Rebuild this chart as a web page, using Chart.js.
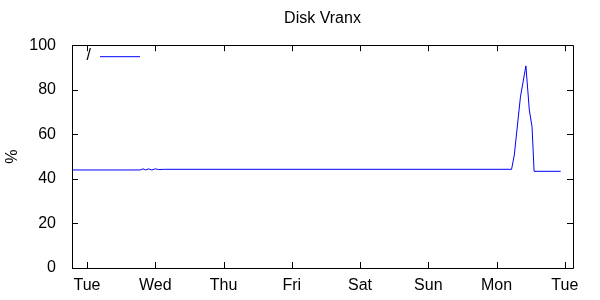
<!DOCTYPE html>
<html>
<head>
<meta charset="utf-8">
<script src="https://cdn.jsdelivr.net/npm/chart.js@4/dist/chart.umd.min.js"></script>
<style>
  html, body { margin: 0; padding: 0; background: #fff; }
  #wrap { width: 600px; height: 300px; }
</style>
</head>
<body>
<div id="wrap"><canvas id="myChart"></canvas></div>
<script>
// time in days from the first Tuesday, value in %
const times = [-0.22, 0.78, 0.82, 0.86, 0.90, 0.95, 1.00, 1.05, 1.14, 6.22, 6.26, 6.35, 6.43, 6.48, 6.52, 6.55, 6.94];
const values = [44, 44, 44.5, 44, 44.5, 44, 44.5, 44.2, 44.3, 44.3, 50.7, 76.8, 90.7, 70.9, 63.4, 43.4, 43.4];
const dayLabels = ["Tue", "Wed", "Thu", "Fri", "Sat", "Sun", "Mon", "Tue"];
const yTicks = [0, 20, 40, 60, 80, 100];
const seriesName = "/";

const FONT = "'Liberation Sans', Arial, sans-serif";

// gnuplot-like frame, inward tick marks and key
const frame = {
  id: "frame",
  afterDatasetsDraw(chart) {
    const ctx = chart.ctx;
    const a = chart.chartArea;
    const xs = chart.scales.x, ys = chart.scales.y;
    ctx.save();
    ctx.strokeStyle = "#000";
    ctx.lineWidth = 1;
    ctx.beginPath();
    ctx.rect(Math.round(a.left) + 0.5, Math.round(a.top) + 0.5,
      Math.round(a.right - a.left), Math.round(a.bottom - a.top));
    yTicks.forEach(v => {
      const y = Math.round(ys.getPixelForValue(v)) + 0.5;
      ctx.moveTo(a.left, y); ctx.lineTo(a.left + 6, y);
      ctx.moveTo(a.right, y); ctx.lineTo(a.right - 6, y);
    });
    dayLabels.forEach((d, i) => {
      const x = Math.round(xs.getPixelForValue(i)) + 0.5;
      ctx.moveTo(x, a.bottom); ctx.lineTo(x, a.bottom - 6);
      ctx.moveTo(x, a.top); ctx.lineTo(x, a.top + 6);
    });
    ctx.stroke();

    // key
    const ds = chart.data.datasets[0];
    ctx.font = "16px " + FONT;
    ctx.fillStyle = "#000";
    ctx.textAlign = "right";
    ctx.textBaseline = "middle";
    ctx.fillText(ds.label, a.left + 19, a.top + 10);
    ctx.strokeStyle = ds.borderColor;
    ctx.beginPath();
    ctx.moveTo(a.left + 28, a.top + 11.5);
    ctx.lineTo(a.left + 68, a.top + 11.5);
    ctx.stroke();
    ctx.restore();
  }
};

new Chart(document.getElementById("myChart"), {
  type: "line",
  data: {
    datasets: [{
      label: seriesName,
      data: times.map((t, i) => ({ x: t, y: values[i] })),
      borderColor: "#0000ff",
      borderWidth: 1,
      pointRadius: 0,
      tension: 0,
      fill: false
    }]
  },
  options: {
    responsive: true,
    maintainAspectRatio: false,
    animation: false,
    layout: { padding: { top: 0, right: 27, bottom: 0, left: 0 } },
    plugins: {
      legend: { display: false },
      tooltip: { enabled: false },
      title: {
        display: true,
        text: "Disk Vranx",
        color: "#000",
        fullSize: false,
        font: { family: FONT, size: 16, weight: "normal" },
        padding: { top: 9, bottom: 17 }
      }
    },
    scales: {
      x: {
        type: "linear",
        min: -0.22,
        max: 7.12,
        afterBuildTicks: s => { s.ticks = dayLabels.map((d, i) => ({ value: i })); },
        afterFit: s => { s.height = 32; },
        ticks: {
          color: "#000",
          font: { family: FONT, size: 16 },
          padding: 0,
          maxRotation: 0,
          autoSkip: false,
          callback: v => dayLabels[v]
        },
        grid: { display: false },
        border: { display: false }
      },
      y: {
        min: 0,
        max: 100,
        afterBuildTicks: s => { s.ticks = yTicks.map(v => ({ value: v })); },
        afterFit: s => { s.width = 72; },
        ticks: {
          color: "#000",
          font: { family: FONT, size: 16 },
          padding: 8
        },
        title: {
          display: true,
          text: "%",
          color: "#000",
          font: { family: FONT, size: 16 },
          padding: { top: 3, bottom: 0 }
        },
        grid: { display: false },
        border: { display: false }
      }
    }
  },
  plugins: [frame]
});
</script>
</body>
</html>
